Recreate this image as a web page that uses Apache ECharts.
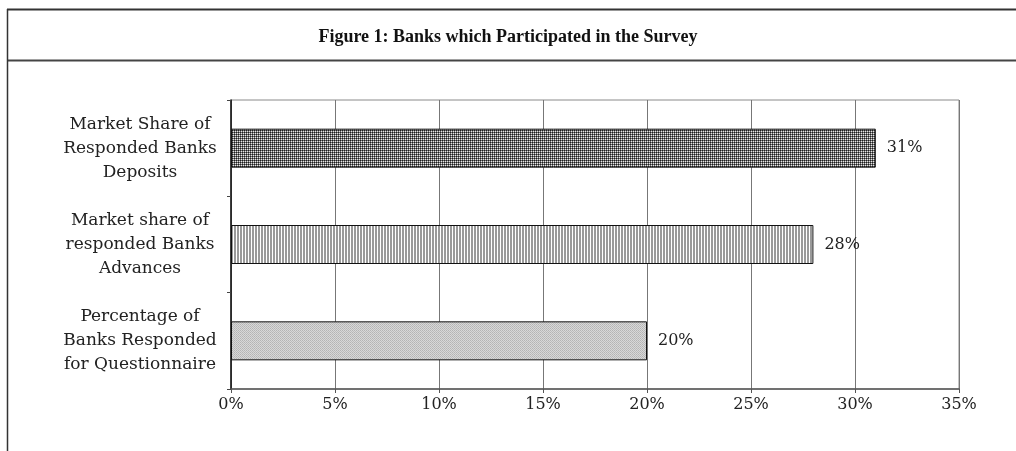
<!DOCTYPE html>
<html>
<head>
<meta charset="utf-8">
<style>
  html, body { margin: 0; padding: 0; background: #ffffff; }
  #chart { width: 1016px; height: 451px; }
</style>
<script src="https://cdn.jsdelivr.net/npm/echarts@6/dist/echarts.min.js"></script>
</head>
<body>
<div id="chart"></div>
<script>
// Survey participation figures (fractions of 1)
const categories = [
  'Market Share of\nResponded Banks\nDeposits',
  'Market share of\nresponded Banks\nAdvances',
  'Percentage of\nBanks Responded\nfor Questionnaire'
];
const shares = [0.31, 0.28, 0.20];
const tickMin = 0;
const tickMax = 0.35;
const tickStep = 0.05;

const SERIF = '"DejaVu Serif", "Liberation Serif", serif';
const TITLE_FONT = '"Liberation Serif", "DejaVu Serif", serif';

// Small repeating tiles used as bar fills
function makeTile(w, h, painter) {
  const c = document.createElement('canvas');
  c.width = w; c.height = h;
  const ctx = c.getContext('2d');
  painter(ctx);
  return c;
}
function px(ctx, x, y, col) { ctx.fillStyle = col; ctx.fillRect(x, y, 1, 1); }

// dense dark dotted texture
const dotTile = makeTile(2, 2, ctx => {
  px(ctx, 0, 0, '#1e1e1e'); px(ctx, 1, 0, '#6e6e6e');
  px(ctx, 0, 1, '#6e6e6e'); px(ctx, 1, 1, '#e6e6e6');
});
// vertical stripes
const stripeTile = makeTile(3, 1, ctx => {
  px(ctx, 0, 0, '#9a9a9a'); px(ctx, 1, 0, '#9a9a9a'); px(ctx, 2, 0, '#ffffff');
});
// fine light-grey grain
const grainTile = makeTile(2, 2, ctx => {
  px(ctx, 0, 0, '#b4b4b4'); px(ctx, 1, 0, '#d8d8d8');
  px(ctx, 0, 1, '#d8d8d8'); px(ctx, 1, 1, '#bcbcbc');
});
const fills = [dotTile, stripeTile, grainTile];

const pct = v => Math.round(v * 100) + '%';

const chart = echarts.init(document.getElementById('chart'), null, { renderer: 'canvas' });

chart.setOption({
  animation: false,
  backgroundColor: '#ffffff',
  title: {
    text: 'Figure 1: Banks which Participated in the Survey',
    left: 'center',
    top: 23,
    textStyle: {
      fontFamily: TITLE_FONT,
      fontWeight: 'bold',
      fontSize: 18,
      color: '#111111'
    }
  },
  graphic: [
    { type: 'line', shape: { x1: 7, y1: 9.5, x2: 1016, y2: 9.5 }, style: { stroke: '#333', lineWidth: 2 } },
    { type: 'line', shape: { x1: 7, y1: 60.5, x2: 1016, y2: 60.5 }, style: { stroke: '#444', lineWidth: 2 } },
    { type: 'line', shape: { x1: 7.5, y1: 9, x2: 7.5, y2: 451 }, style: { stroke: '#333', lineWidth: 1.5 } }
  ],
  grid: {
    left: 231,
    right: 57,
    top: 100,
    bottom: 62,
    show: true,
    borderColor: '#8a8a8a',
    borderWidth: 1,
    backgroundColor: 'transparent'
  },
  xAxis: {
    type: 'value',
    min: tickMin,
    max: tickMax,
    interval: tickStep,
    axisLine: { show: true, lineStyle: { color: '#555', width: 1.5 } },
    axisTick: { show: true, length: 4, lineStyle: { color: '#555' } },
    splitLine: { show: true, lineStyle: { color: '#777', width: 1 } },
    axisLabel: {
      formatter: v => pct(v),
      fontFamily: SERIF,
      fontSize: 16,
      color: '#222',
      margin: 8
    }
  },
  yAxis: {
    type: 'category',
    data: categories,
    inverse: true,
    axisLine: { show: true, lineStyle: { color: '#111', width: 1.5 } },
    axisTick: { show: true, length: 4, lineStyle: { color: '#444' } },
    axisLabel: {
      fontFamily: SERIF,
      fontSize: 17,
      lineHeight: 24,
      color: '#222',
      align: 'center',
      margin: 91
    }
  },
  series: [{
    type: 'bar',
    data: shares.map((v, i) => ({
      value: v,
      itemStyle: { color: { image: fills[i], repeat: 'repeat' } }
    })),
    barWidth: 39,
    itemStyle: { borderColor: '#111', borderWidth: 1 },
    label: {
      show: true,
      position: 'right',
      distance: 11,
      formatter: p => pct(p.value),
      fontFamily: SERIF,
      fontSize: 16,
      color: '#222'
    }
  }]
});
</script>
</body>
</html>
